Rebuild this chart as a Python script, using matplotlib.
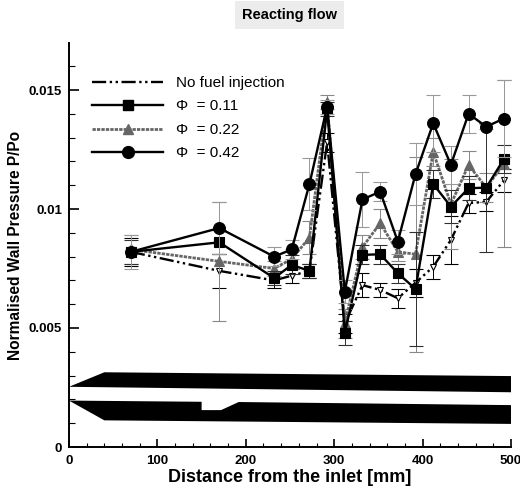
import matplotlib
matplotlib.use("Agg")
import matplotlib.pyplot as plt
from matplotlib.lines import Line2D
from matplotlib.ticker import MultipleLocator, FixedLocator, FixedFormatter

plt.rcParams['font.family'] = ['Liberation Sans', 'DejaVu Sans']

x = [70, 170, 232, 252, 272, 292, 312, 332, 352, 372, 392, 412, 432, 452, 472, 492]
no_fuel = [.0082, .0074, .0070, .0072, .0074, .0128, .0052, .0068, .0066, .00625, .0069, .00757, .0087, .01025, .0103, .0112]
phi_11 = [.0082, .0086, .0071, .00765, .0074, .0142, .0048, .00807, .0081, .0073, .00664, .01105, .0101, .01087, .0109, .0121]
phi_22 = [.0083, .0078, .0075, .0079, .0088, .0145, .0052, .0084, .0094, .0082, .0081, .0124, .0102, .01185, .0109, .0119]
phi_42 = [.0082, .0092, .0080, .0083, .01105, .0143, .00653, .0104, .01073, .00863, .01147, .0136, .01186, .0140, .01346, .0138]

err_no = [.0006, .0007, .0003, .0003, .0003, .0004, .0004, .0005, .0003, .0004, .0006, .0005, .0010, .0004, .0004, .0005]
err_11 = [.0005, .0005, .0003, .0004, .0003, .0003, .0005, .0004, .0004, .0004, .0024, .0006, .0007, .0005, .0027, .0006]
err_22 = [.0006, .0025, .0003, .0004, .0007, .0003, .0006, .0005, .0006, .0004, .0041, .0006, .0019, .0006, .0006, .0035]
err_42 = [.0007, .0011, .0004, .0004, .0011, .0003, .0005, .00115, .0004, .0005, .0013, .0012, .0008, .0008, .0001, .0016]

top_wall_x = [0, 40, 500, 500, 0]
top_wall_y = [.00253, .00314, .00298, .00230, .00253]
low_wall_x = [0, 150, 150, 172, 192, 500, 500, 40, 0]
low_wall_y = [.00195, .00190, .00155, .00155, .00189, .00176, .00097, .00112, .00195]

labels = ['No fuel injection', 'Φ  = 0.11', 'Φ  = 0.22', 'Φ  = 0.42']

W, H = 520, 491
fig = plt.figure(figsize=(W/100, H/100), dpi=100)
ax = fig.add_axes([69/W, 1-447/H, (511-69)/W, (447-43)/H])
ax.set_xlim(0, 500)
ax.set_ylim(0, (447-43)/119*.005)

ax.fill(top_wall_x, top_wall_y, color='black', lw=0, zorder=1)
ax.fill(low_wall_x, low_wall_y, color='black', lw=0, zorder=1)

DASH = (0, (6, 1.5, 1, 1.5, 1, 1.5))
GREY_LS = (0, (1.2, 0.4))

def series(y, e, ecolor, color, marker, ms, ls, lw, z, mfc=None):
    ax.errorbar(x, y, yerr=e, ecolor=ecolor, elinewidth=0.7, capsize=5.2, capthick=0.7,
                color=color, marker=marker, ms=ms, ls=ls, lw=lw, mfc=mfc or color,
                mec=color, mew=0.8, zorder=z, clip_on=False)

series(no_fuel, err_no, 'black', 'black', 'v', 5, DASH, 1.7, 3, mfc='white')
series(phi_22, err_22, '#888888', '#666666', '^', 6.5, GREY_LS, 2.0, 4)
series(phi_11, err_11, '#303030', 'black', 's', 7.5, '-', 1.7, 5)
series(phi_42, err_42, '#999999', 'black', 'o', 8.5, '-', 1.7, 6)

for s in ('top', 'right'):
    ax.spines[s].set_visible(False)
for s in ('left', 'bottom'):
    ax.spines[s].set_linewidth(1.4)

ax.xaxis.set_major_locator(MultipleLocator(100))
ax.xaxis.set_minor_locator(MultipleLocator(20))
ax.yaxis.set_major_locator(FixedLocator([0, .005, .01, .015]))
ax.yaxis.set_major_formatter(FixedFormatter(['0', '0.005', '0.01', '0.015']))
ax.yaxis.set_minor_locator(MultipleLocator(.001))
ax.tick_params(axis='x', which='major', direction='in', length=6, width=1.2, labelsize=9.5, pad=6)
ax.tick_params(axis='x', which='minor', direction='in', length=3, width=0.8)
ax.tick_params(axis='y', which='major', direction='in', length=7, width=1.2, labelsize=9.5, pad=5)
ax.tick_params(axis='y', which='minor', direction='in', length=4, width=0.8)
for t in ax.get_xticklabels() + ax.get_yticklabels():
    t.set_fontweight('bold')

ax.set_xlabel('Distance from the inlet [mm]', fontsize=13, fontweight='bold', labelpad=1)
ax.set_ylabel('Normalised Wall Pressure P/Po', fontsize=11.2, fontweight='bold', labelpad=4)

handles = [
    Line2D([], [], color='black', ls=DASH, lw=1.7),
    Line2D([], [], color='black', lw=1.7, marker='s', ms=7.5),
    Line2D([], [], color='#666666', ls=GREY_LS, lw=2.0, marker='^', ms=6.5),
    Line2D([], [], color='black', lw=1.7, marker='o', ms=8.5),
]
leg = ax.legend(handles, labels, loc='upper left',
                bbox_to_anchor=(23/442, (447-76)/404), frameon=False, fontsize=11,
                handlelength=4.65, handletextpad=0.85, labelspacing=0.62,
                borderpad=0, borderaxespad=0)

fig.text(289/W, 1-15/H, 'Reacting flow', ha='center', va='center', fontsize=10.5, fontweight='bold',
         bbox=dict(facecolor='#ececec', edgecolor='none', pad=5))

fig.savefig('out.png', dpi=100)
